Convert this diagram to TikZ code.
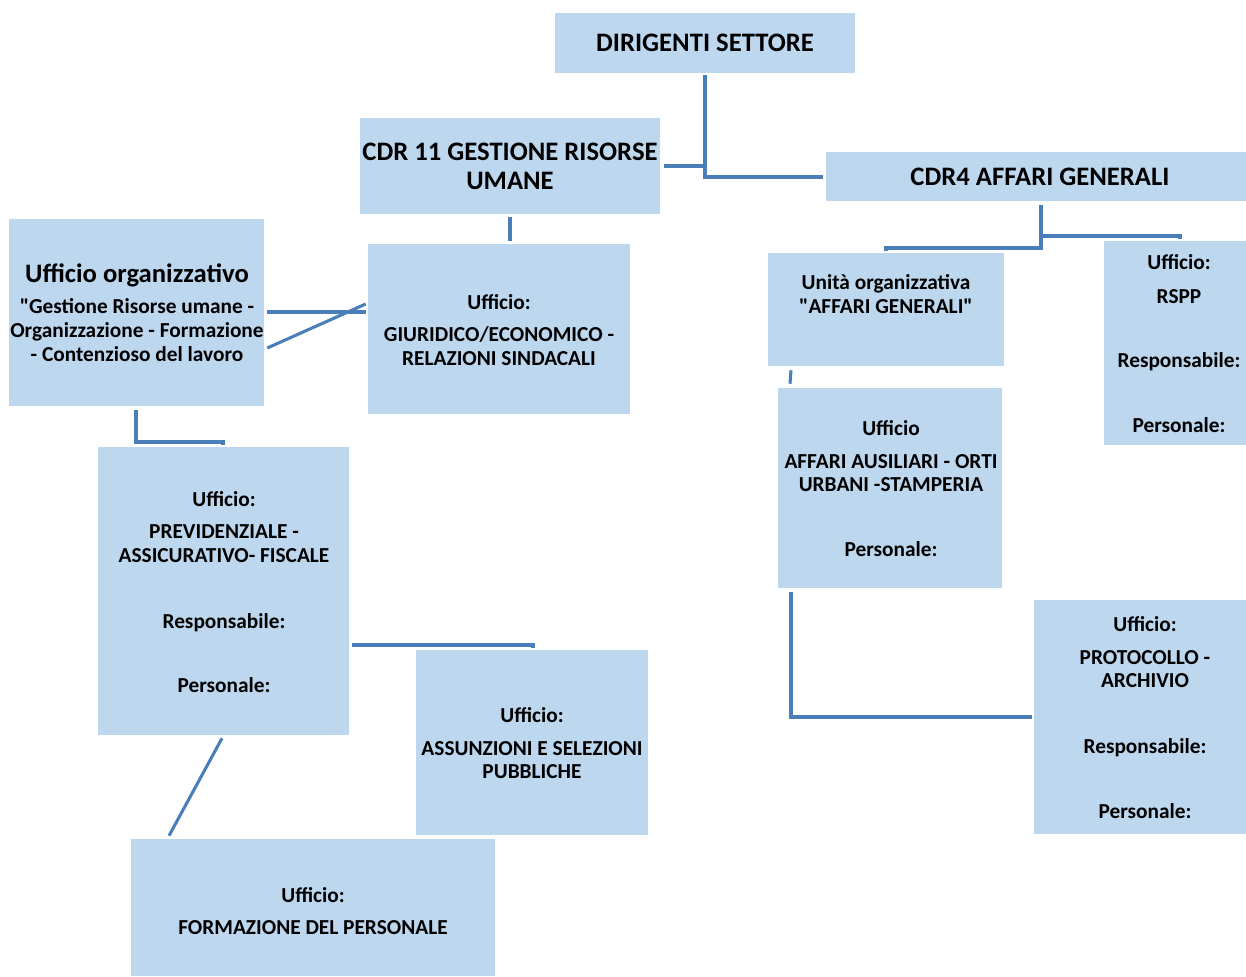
\documentclass[tikz,border=0pt]{standalone}
\usepackage{fontspec}
\setmainfont{Carlito}
\usetikzlibrary{fit}
\definecolor{boxfill}{HTML}{BDD7EE}
\definecolor{linec}{HTML}{4A7EBB}
\begin{document}
\begin{tikzpicture}[x=0.75pt,y=-0.75pt,
  box/.style={fill=boxfill,draw=none,inner sep=0pt},
  t/.style={inner sep=0pt,text height=0.64em,text depth=0pt,yshift=-2.8pt,font=\fontsize{16}{19}\selectfont\bfseries},
  tl/.style={t,font=\fontsize{20}{24}\selectfont\bfseries},
  conn/.style={draw=linec,line width=2.3pt}]
\useasboundingbox (0,0) rectangle (1246,976);
% boxes
\node[box,fit={(555,13) (855,73)}] (dir) {};
\node[box,fit={(360,118) (660,214)}] (cdr11) {};
\node[box,fit={(826,152) (1246,201)}] (cdr4) {};
\node[box,fit={(9,219) (264,406)}] (org) {};
\node[box,fit={(368,244) (630,414)}] (giur) {};
\node[box,fit={(768,253) (1004,366)}] (unita) {};
\node[box,fit={(1104,241) (1246,445)}] (rspp) {};
\node[box,fit={(778,388) (1002,588)}] (aus) {};
\node[box,fit={(98,447) (349,735)}] (prev) {};
\node[box,fit={(416,650) (648,835)}] (assu) {};
\node[box,fit={(131,839) (495,976)}] (form) {};
\node[box,fit={(1034,600) (1246,834)}] (prot) {};
% texts
\node[tl] (t1) at (705,43) {DIRIGENTI SETTORE};
\node[tl] (t2) at (510,152) {CDR 11 GESTIONE RISORSE};
\node[tl] (t3) at (510,181) {UMANE};
\node[tl] (t4) at (1040,177) {CDR4 AFFARI GENERALI};
\node[tl] (t5) at (137,274) {Ufficio organizzativo};
\node[t] (t6) at (137,305) {\textquotedbl Gestione Risorse umane -};
\node[t] (t7) at (137,329) {Organizzazione - Formazione};
\node[t] (t8) at (137,353) {- Contenzioso del lavoro};
\node[t] (t9) at (499,301) {Ufficio:};
\node[t] (t10) at (499,333) {GIURIDICO/ECONOMICO -};
\node[t] (t11) at (499,357) {RELAZIONI SINDACALI};
\node[t] (t12) at (886,281) {Unità organizzativa};
\node[t] (t13) at (886,305) {\textquotedbl AFFARI GENERALI\textquotedbl};
\node[t] (t14) at (1179,261) {Ufficio:};
\node[t] (t15) at (1179,295) {RSPP};
\node[t] (t16) at (1179,359) {Responsabile:};
\node[t] (t17) at (1179,424) {Personale:};
\node[t] (t18) at (891,427) {Ufficio};
\node[t] (t19) at (891,460) {AFFARI AUSILIARI - ORTI};
\node[t] (t20) at (891,483) {URBANI -STAMPERIA};
\node[t] (t21) at (891,548) {Personale:};
\node[t] (t22) at (224,498) {Ufficio:};
\node[t] (t23) at (224,530) {PREVIDENZIALE -};
\node[t] (t24) at (224,554) {ASSICURATIVO- FISCALE};
\node[t] (t25) at (224,620) {Responsabile:};
\node[t] (t26) at (224,684) {Personale:};
\node[t] (t27) at (532,714) {Ufficio:};
\node[t] (t28) at (532,747) {ASSUNZIONI E SELEZIONI};
\node[t] (t29) at (532,770) {PUBBLICHE};
\node[t] (t30) at (313,894) {Ufficio:};
\node[t] (t31) at (313,926) {FORMAZIONE DEL PERSONALE};
\node[t] (t32) at (1145,623) {Ufficio:};
\node[t] (t33) at (1145,656) {PROTOCOLLO -};
\node[t] (t34) at (1145,679) {ARCHIVIO};
\node[t] (t35) at (1145,745) {Responsabile:};
\node[t] (t36) at (1145,810) {Personale:};
% connectors
\draw[conn] (dir.south -| 705,0) ++(0,2) |- ([xshift=-2.25pt]cdr4.west |- 0,177);
\draw[conn] ([xshift=3pt]cdr11.east |- 0,166) -- (705,166);
\draw[conn] ([yshift=-2.25pt]cdr11.south) -- ([yshift=2.25pt]giur.north -| cdr11.south);
\draw[conn] ([xshift=2.25pt]org.east |- 0,312) -- ([xshift=-1.5pt]giur.west |- 0,312);
\draw[conn] ([xshift=2.25pt]org.east |- 0,348) -- ([xshift=-1.5pt]giur.west |- 0,304);
\draw[conn] ([yshift=-3pt]org.south -| 136,0) |- (223,442) -- ([yshift=1.5pt]prev.north -| 223,0);
\draw[conn] ([xshift=2.25pt]prev.east |- 0,645) -| ([yshift=1.5pt]assu.north -| 533,0);
\draw[conn] ([yshift=-2.25pt]prev.south -| 222,0) -- ([yshift=2.25pt]form.north -| 169,0);
\draw[conn] ([yshift=-3pt]cdr4.south -| 1041,0) |- (886,248) -- ([yshift=1.5pt]unita.north -| 886,0);
\draw[conn] (1041,236) -| ([yshift=1.5pt]rspp.north -| 1180,0);
\draw[conn] ([yshift=-3pt]unita.south -| 791,0) -- ([yshift=3pt]aus.north -| 790,0);
\draw[conn] ([yshift=-3pt]aus.south -| 791,0) |- ([xshift=-1.5pt]prot.west |- 0,717);
\end{tikzpicture}
\end{document}
